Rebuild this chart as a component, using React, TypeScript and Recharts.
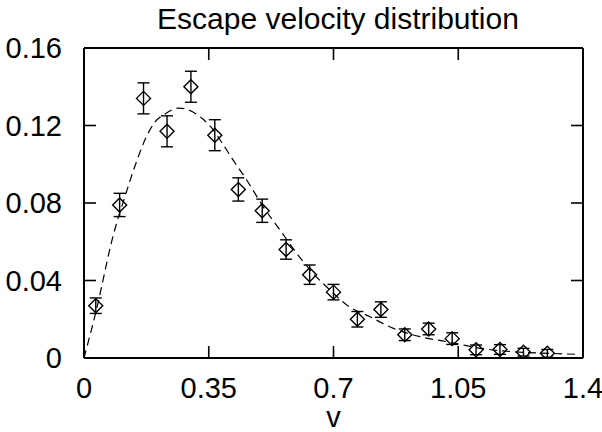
import React from 'react';
import { ComposedChart, Line, Scatter, ErrorBar, XAxis, YAxis, ReferenceLine } from 'recharts';

// measured histogram points (bin centres) with their error bars
const velocity = [
  0.033, 0.1, 0.167, 0.233, 0.3, 0.367, 0.433, 0.5, 0.567, 0.633,
  0.7, 0.767, 0.833, 0.9, 0.967, 1.033, 1.1, 1.167, 1.233, 1.3,
];
const density = [
  0.027, 0.079, 0.134, 0.117, 0.14, 0.115, 0.087, 0.076, 0.056, 0.043,
  0.034, 0.02, 0.025, 0.012, 0.015, 0.01, 0.0042, 0.0044, 0.003, 0.0024,
];
const densityErr = [
  0.004, 0.006, 0.008, 0.008, 0.008, 0.008, 0.006, 0.006, 0.005, 0.005,
  0.004, 0.004, 0.004, 0.003, 0.003, 0.003, 0.0025, 0.0025, 0.002, 0.002,
];

// fitted curve
const fitV = [
  0, 0.033, 0.083, 0.116, 0.144, 0.172, 0.2, 0.228, 0.266, 0.294,
  0.331, 0.359, 0.382, 0.419, 0.456, 0.503, 0.55, 0.597, 0.643, 0.69,
  0.737, 0.802, 0.868, 0.943, 1.018, 1.046, 1.12, 1.214, 1.307, 1.382,
];
const fitF = [
  0, 0.0235, 0.064, 0.084, 0.0996, 0.113, 0.122, 0.126, 0.129, 0.128,
  0.1237, 0.1186, 0.1125, 0.102, 0.092, 0.078, 0.066, 0.054, 0.0437, 0.0351,
  0.0274, 0.0213, 0.0153, 0.011, 0.0084, 0.0074, 0.0048, 0.0031, 0.0024, 0.0019,
];

const xTicks = [0, 0.35, 0.7, 1.05, 1.4];
const yTicks = [0, 0.04, 0.08, 0.12, 0.16];
const X_MAX = 1.4;
const Y_MAX = 0.16;

const points = velocity.map((v, i) => ({ v, y: density[i], err: densityErr[i] }));
const fit = fitV.map((v, i) => ({ v, y: fitF[i] }));

const FONT = '"Liberation Sans", Arial, Helvetica, sans-serif';
const FS = 29;
const TICK_LEN = 12;
const W = 602;
const H = 432;
const MARGIN = { top: 48, right: 19, bottom: 0, left: 0 };
const PLOT_TOP = MARGIN.top;
const PLOT_RIGHT = W - MARGIN.right;

// gnuplot-style ticks: short marks pointing into the plot on all four sides
const BOTTOM_GAP = 20;
const LEFT_GAP = 22;

const BottomTick = (props: any) => {
  const { x, y, payload } = props;
  const axisY = y - BOTTOM_GAP;
  return (
    <g>
      <line x1={x} x2={x} y1={axisY} y2={axisY - TICK_LEN} stroke="#000" strokeWidth={1.6} />
      <line x1={x} x2={x} y1={PLOT_TOP} y2={PLOT_TOP + TICK_LEN} stroke="#000" strokeWidth={1.6} />
      <text x={x} y={y + 20} textAnchor="middle" fontSize={FS} fontFamily={FONT} fill="#000">
        {payload.value}
      </text>
    </g>
  );
};

const LeftTick = (props: any) => {
  const { x, y, payload } = props;
  const axisX = x + LEFT_GAP;
  return (
    <g>
      <line x1={axisX} x2={axisX + TICK_LEN} y1={y} y2={y} stroke="#000" strokeWidth={1.6} />
      <line x1={PLOT_RIGHT} x2={PLOT_RIGHT - TICK_LEN} y1={y} y2={y} stroke="#000" strokeWidth={1.6} />
      <text x={x} y={y + 10} textAnchor="end" fontSize={FS} fontFamily={FONT} fill="#000">
        {payload.value}
      </text>
    </g>
  );
};

const Diamond = (props: any) => {
  const { cx, cy } = props;
  if (cx == null || cy == null) return null;
  const r = 7;
  return (
    <path
      d={`M${cx},${cy - r}L${cx + r},${cy}L${cx},${cy + r}L${cx - r},${cy}Z`}
      fill="none"
      stroke="#000"
      strokeWidth={1.4}
    />
  );
};

export default function App() {
  return (
    <div style={{ position: 'absolute', left: 0, top: 0, width: W, height: H, background: '#fff' }}>
      <div
        style={{
          position: 'absolute',
          left: 74,
          top: 2,
          width: 528,
          textAlign: 'center',
          fontFamily: FONT,
          fontSize: 30,
          color: '#000',
          lineHeight: 'normal',
        }}
      >
        Escape velocity distribution
      </div>
      <ComposedChart width={W} height={H} margin={MARGIN}>
        <XAxis
          dataKey="v"
          type="number"
          domain={[0, X_MAX]}
          ticks={xTicks}
          allowDataOverflow
          height={74}
          tickSize={0}
          tickMargin={BOTTOM_GAP}
          tick={<BottomTick />}
          tickLine={false}
          axisLine={{ stroke: '#000', strokeWidth: 2 }}
          label={{ value: 'v', position: 'insideBottom', offset: 5, fontSize: FS, fill: '#000', fontFamily: FONT }}
        />
        <YAxis
          dataKey="y"
          type="number"
          domain={[0, Y_MAX]}
          ticks={yTicks}
          allowDataOverflow
          width={84}
          tickSize={0}
          tickMargin={LEFT_GAP}
          tick={<LeftTick />}
          tickLine={false}
          axisLine={{ stroke: '#000', strokeWidth: 2 }}
        />
        {/* top and right sides of the frame */}
        <ReferenceLine y={Y_MAX} stroke="#000" strokeWidth={2} ifOverflow="visible" />
        <ReferenceLine x={X_MAX} stroke="#000" strokeWidth={2} ifOverflow="visible" />
        <Line
          data={fit}
          dataKey="y"
          type="monotone"
          stroke="#000"
          strokeWidth={1.2}
          strokeDasharray="8 5"
          dot={false}
          activeDot={false}
          isAnimationActive={false}
        />
        <Scatter data={points} dataKey="y" shape={<Diamond />} isAnimationActive={false}>
          <ErrorBar dataKey="err" direction="y" width={6} stroke="#000" strokeWidth={1.4} isAnimationActive={false} />
        </Scatter>
      </ComposedChart>
    </div>
  );
}
